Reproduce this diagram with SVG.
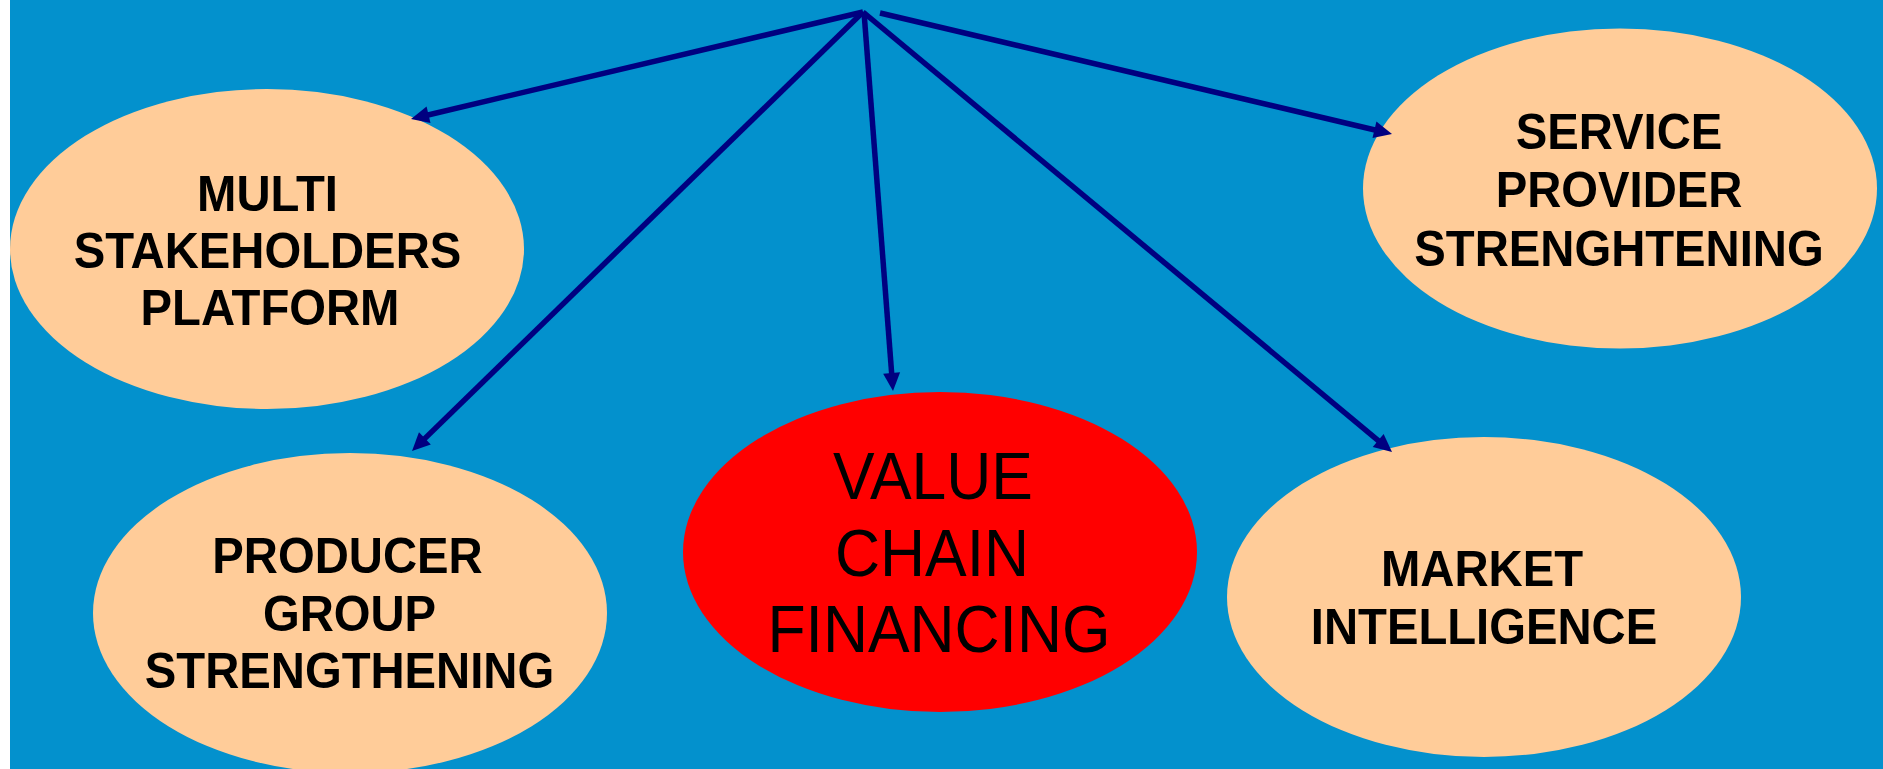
<svg xmlns="http://www.w3.org/2000/svg" width="1883" height="769" viewBox="0 0 1883 769">
  <style>
    .bg { fill: #0391cd; }
    .peach { fill: #ffcc99; }
    .red { fill: #ff0000; }
    .lbl { font-family: "Liberation Sans", Arial, Helvetica, sans-serif; font-size: 50px; font-weight: bold; fill: #000; text-anchor: middle; }
    .lbl-big { font-family: "Liberation Sans", Arial, Helvetica, sans-serif; font-size: 66px; font-weight: normal; fill: #000; text-anchor: middle; }
    .conn { stroke: #000080; stroke-width: 5.5; fill: none; marker-end: url(#head); }
  </style>
  <defs>
    <marker id="head" markerUnits="userSpaceOnUse" markerWidth="18" markerHeight="17" refX="6" refY="8.5" orient="auto" overflow="visible">
      <path d="M0,0 L18,8.5 L0,17 Z" fill="#000080"/>
    </marker>
  </defs>

  <rect x="0" y="0" width="1883" height="769" fill="#ffffff"/>
  <rect class="bg" x="10" y="0" width="1873" height="769"/>

  <g id="node-msp">
    <ellipse class="peach" cx="267" cy="249" rx="257" ry="160"/>
    <text class="lbl" transform="translate(267.5,211) scale(0.945,1)">MULTI</text>
    <text class="lbl" transform="translate(267.5,268) scale(0.945,1)">STAKEHOLDERS</text>
    <text class="lbl" transform="translate(270,325) scale(0.945,1)">PLATFORM</text>
  </g>

  <g id="node-sps">
    <ellipse class="peach" cx="1620" cy="188.5" rx="257" ry="160"/>
    <text class="lbl" transform="translate(1619,149) scale(0.945,1)">SERVICE</text>
    <text class="lbl" transform="translate(1619,207) scale(0.945,1)">PROVIDER</text>
    <text class="lbl" transform="translate(1619,266) scale(0.945,1)">STRENGHTENING</text>
  </g>

  <g id="node-pgs">
    <ellipse class="peach" cx="350" cy="613" rx="257" ry="160"/>
    <text class="lbl" transform="translate(347.5,573) scale(0.945,1)">PRODUCER</text>
    <text class="lbl" transform="translate(349.5,631) scale(0.945,1)">GROUP</text>
    <text class="lbl" transform="translate(349.5,688) scale(0.945,1)">STRENGTHENING</text>
  </g>

  <g id="node-vcf">
    <ellipse class="red" cx="940" cy="552" rx="257" ry="160"/>
    <text class="lbl-big" transform="translate(933,499) scale(0.945,1)">VALUE</text>
    <text class="lbl-big" transform="translate(932,576) scale(0.945,1)">CHAIN</text>
    <text class="lbl-big" transform="translate(939,652) scale(0.945,1)">FINANCING</text>
  </g>

  <g id="node-mi">
    <ellipse class="peach" cx="1484" cy="597" rx="257" ry="160"/>
    <text class="lbl" transform="translate(1482,586) scale(0.945,1)">MARKET</text>
    <text class="lbl" transform="translate(1484,644) scale(0.945,1)">INTELLIGENCE</text>
  </g>

  <g id="connectors">
    <line class="conn" x1="863" y1="12" x2="422.7" y2="116.2"/>
    <line class="conn" x1="863" y1="12" x2="420.6" y2="442.6"/>
    <line class="conn" x1="864" y1="12" x2="892.1" y2="379"/>
    <line class="conn" x1="863" y1="12" x2="1382.8" y2="444.3"/>
    <line class="conn" x1="880" y1="13" x2="1380.3" y2="131.2"/>
  </g>
</svg>
